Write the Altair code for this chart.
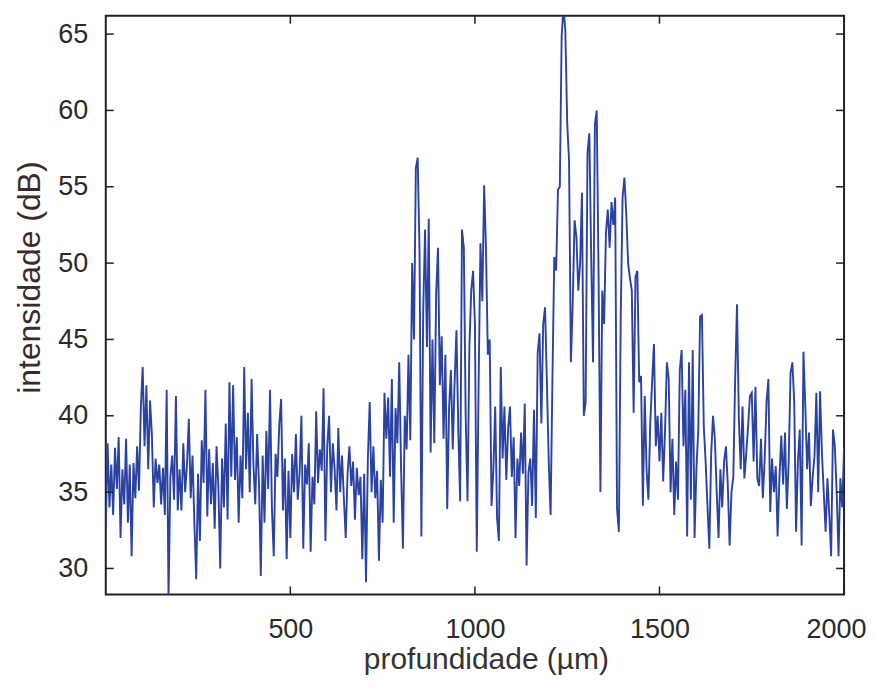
import altair as alt
import pandas as pd

# depth step 5 µm, 0..2000
depth_step = 5
intensity = [
    # 0-95
    32.5, 38.2, 34.0, 36.8, 33.5, 37.9, 35.2, 38.6, 32.0, 36.5, 34.2, 38.5, 33.0, 36.8, 30.8, 36.9, 34.6, 38.0, 35.1, 40.5,
    # 100-195
    43.2, 38.0, 42.0, 36.5, 41.0, 38.7, 34.0, 37.2, 35.6, 36.8, 34.2, 36.6, 33.5, 41.7, 28.0, 36.0, 37.4, 34.5, 41.3, 33.8,
    # 200-295
    36.5, 33.8, 38.2, 35.0, 36.8, 39.8, 34.6, 37.4, 33.0, 29.3, 36.2, 31.8, 38.4, 35.6, 41.7, 33.4, 37.8, 34.2, 36.9, 32.6,
    # 300-395
    38.0, 35.4, 30.0, 37.2, 34.0, 39.5, 33.2, 42.2, 36.0, 42.0, 35.8, 38.6, 33.0, 37.4, 34.6, 43.2, 36.5, 40.2, 35.0, 42.4,
    # 400-495
    36.8, 34.2, 38.8, 35.6, 29.5, 37.4, 33.0, 39.0, 35.2, 41.7, 34.0, 30.8, 37.5, 36.0, 39.4, 41.1, 33.8, 37.2, 30.6, 36.4,
    # 500-595
    32.0, 37.5, 35.0, 38.8, 34.5, 36.2, 40.0, 31.3, 36.8, 35.5, 38.2, 31.1, 36.0, 34.2, 40.3, 35.6, 37.8, 36.4, 41.8, 31.8,
    # 600-695
    38.0, 40.0, 35.0, 38.2, 36.5, 33.8, 39.2, 35.0, 37.4, 34.6, 32.0, 36.2, 38.0, 35.4, 37.0, 33.2, 36.6, 34.8, 36.0, 30.6,
    # 700-795
    36.2, 29.1, 37.2, 40.9, 35.0, 38.0, 34.6, 36.4, 30.5, 35.8, 33.0, 41.5, 38.5, 41.2, 36.0, 42.4, 33.0, 40.5, 38.2, 43.5,
    # 800-895
    36.5, 31.3, 40.0, 37.8, 44.0, 38.4, 50.0, 45.0, 56.2, 56.9, 50.7, 32.1, 47.0, 52.2, 44.5, 52.9, 37.6, 45.0, 38.2, 48.0,
    # 900-995
    51.0, 42.0, 45.2, 38.5, 44.0, 33.9, 40.5, 43.0, 37.8, 42.2, 45.6, 39.0, 34.4, 52.2, 51.0, 40.0, 34.4, 44.5, 48.2, 49.5,
    # 1000-1095
    46.0, 31.1, 42.0, 51.3, 47.5, 55.1, 50.9, 44.0, 45.0, 34.1, 36.5, 40.6, 33.3, 31.8, 43.2, 37.2, 40.6, 35.8, 39.2, 40.6,
    # 1100-1195
    36.0, 38.6, 32.0, 37.2, 35.4, 38.9, 36.2, 40.8, 30.2, 36.3, 37.2, 34.1, 40.4, 33.3, 44.1, 45.4, 39.5, 46.0, 47.1, 42.2,
    # 1200-1295
    37.0, 33.5, 42.4, 50.4, 49.5, 54.8, 55.0, 64.9, 66.8, 65.2, 59.2, 56.7, 43.5, 47.4, 52.8, 51.7, 48.2, 50.0, 54.6, 40.0,
    # 1300-1395
    40.9, 57.2, 58.5, 50.4, 43.5, 59.1, 60.0, 49.1, 35.0, 48.2, 46.0, 52.0, 53.5, 51.0, 54.0, 52.5, 54.3, 33.9, 32.4, 46.5,
    # 1400-1495
    54.3, 55.6, 53.3, 50.0, 49.0, 48.2, 40.2, 49.1, 49.5, 42.2, 42.6, 34.1, 41.3, 36.5, 34.5, 39.5, 42.2, 44.7, 38.0, 40.0,
    # 1500-1595
    37.0, 40.2, 35.7, 39.0, 43.5, 42.4, 35.0, 38.5, 33.5, 37.0, 34.5, 43.0, 44.3, 38.0, 41.7, 32.1, 43.5, 34.5, 44.3, 32.0,
    # 1600-1695
    36.5, 39.0, 46.5, 46.6, 39.3, 37.0, 34.1, 31.3, 37.5, 40.0, 38.5, 35.0, 32.0, 36.5, 34.0, 37.0, 38.0, 35.5, 31.5, 35.0,
    # 1700-1795
    36.0, 42.4, 47.3, 39.8, 36.5, 40.6, 35.9, 37.5, 39.3, 41.3, 41.5, 37.0, 41.9, 35.9, 35.4, 38.5, 34.6, 37.2, 40.9, 42.4,
    # 1800-1895
    33.7, 37.2, 35.0, 36.7, 32.1, 36.0, 38.7, 35.5, 38.9, 33.9, 37.0, 42.8, 43.5, 40.9, 32.4, 37.0, 39.1, 31.5, 44.2, 40.6,
    # 1900-2000
    36.5, 38.9, 34.1, 36.0, 37.4, 41.5, 35.0, 41.6, 37.6, 35.0, 32.4, 35.9, 33.5, 30.8, 39.1, 38.0, 35.0, 30.8, 35.9, 34.0, 37.9,
]
depth = [i * depth_step for i in range(len(intensity))]

x_ticks = [500, 1000, 1500, 2000]
y_ticks = [30, 35, 40, 45, 50, 55, 60, 65]

W, H = 740, 580
X_DOMAIN = [0, 2000]
Y_DOMAIN = [28.3, 66.2]
FONT = "Liberation Sans"
TICK = 8
FRAME = "#222"

df = pd.DataFrame({"depth": depth, "intensity": intensity})
xt = pd.DataFrame({"v": x_ticks})
yt = pd.DataFrame({"v": y_ticks})

xscale = alt.Scale(domain=X_DOMAIN, nice=False, zero=False)
yscale = alt.Scale(domain=Y_DOMAIN, nice=False, zero=False)

line = alt.Chart(df).mark_line(clip=True, color="#2a42a2", strokeWidth=1.9).encode(
    x=alt.X("depth:Q", scale=xscale,
            axis=alt.Axis(values=x_ticks, format="d", title="profundidade (µm)", ticks=False,
                          domain=False, grid=False, labelFont=FONT, labelFontSize=27,
                          labelColor="#2a2a2a", labelPadding=22, labelFlush=True,
                          labelFlushOffset=22, titleFont=FONT, titleFontSize=30,
                          titleFontWeight="normal", titleColor="#333", titlePadding=2,
                          titleX=381)),
    y=alt.Y("intensity:Q", scale=yscale,
            axis=alt.Axis(values=y_ticks, format="d", title="intensidade (dB)", ticks=False,
                          domain=False, grid=False, labelFont=FONT, labelFontSize=27,
                          labelColor="#2a2a2a", labelPadding=18, titleFont=FONT, titleFontSize=32,
                          titleFontWeight="normal", titleColor="#3a2b28", titlePadding=11,
                          titleY=262)),
)

xb = alt.Chart(xt).mark_rule(color=FRAME, strokeWidth=1.5).encode(
    x=alt.X("v:Q", scale=xscale), y=alt.value(H), y2=alt.value(H - TICK))
xtp = alt.Chart(xt).mark_rule(color=FRAME, strokeWidth=1.5).encode(
    x=alt.X("v:Q", scale=xscale), y=alt.value(0), y2=alt.value(TICK))
yl = alt.Chart(yt).mark_rule(color=FRAME, strokeWidth=1.5).encode(
    y=alt.Y("v:Q", scale=yscale), x=alt.value(0), x2=alt.value(TICK))
yr = alt.Chart(yt).mark_rule(color=FRAME, strokeWidth=1.5).encode(
    y=alt.Y("v:Q", scale=yscale), x=alt.value(W - TICK), x2=alt.value(W))

chart = alt.layer(line, xb, xtp, yl, yr).properties(
    width=W, height=H,
    autosize=alt.AutoSizeParams(type="none"),
    padding={"left": 98, "top": 7, "right": 24, "bottom": 81},
).configure_view(stroke=FRAME, strokeWidth=2)

chart.save("out.html", embed_options={"renderer": "svg", "actions": False})
